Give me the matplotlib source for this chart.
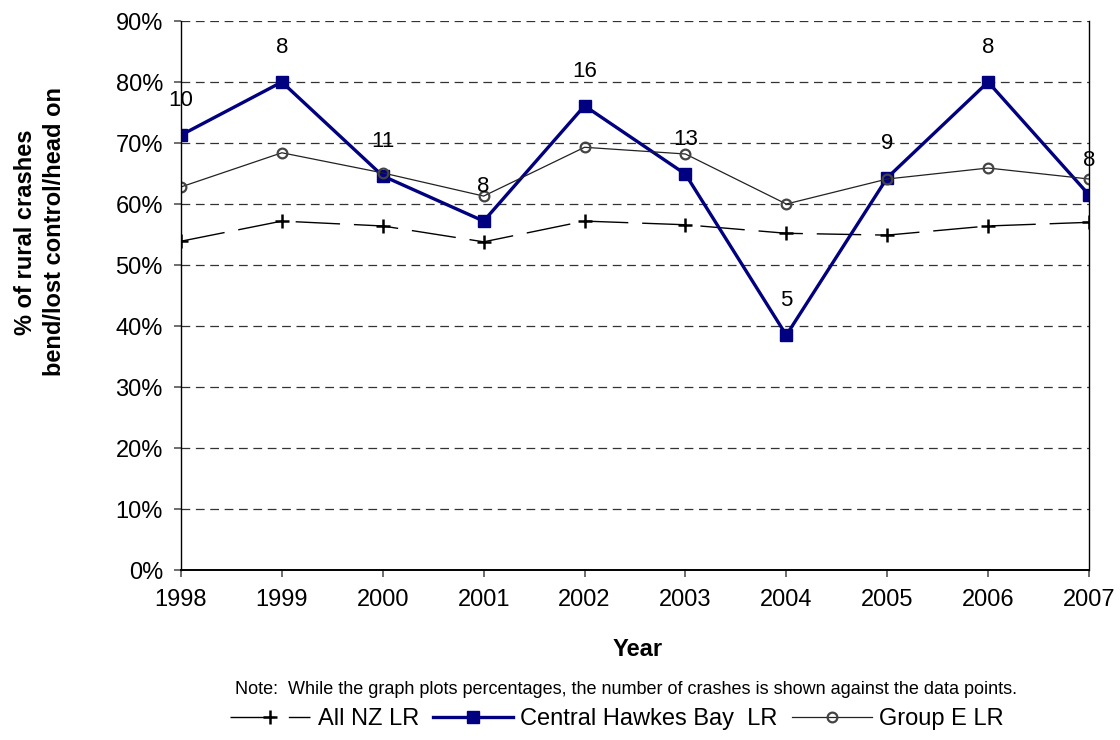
import matplotlib

matplotlib.use("Agg")
import matplotlib.pyplot as plt
from matplotlib.ticker import PercentFormatter

plt.rcParams["font.family"] = ["Liberation Sans", "DejaVu Sans"]

years = [1998, 1999, 2000, 2001, 2002, 2003, 2004, 2005, 2006, 2007]
all_nz = [53.9, 57.2, 56.4, 53.8, 57.2, 56.6, 55.2, 54.9, 56.4, 57.0]
central_hb = [71.3, 80.0, 64.6, 57.2, 76.1, 64.9, 38.5, 64.3, 80.0, 61.5]
group_e = [62.8, 68.4, 65.1, 61.3, 69.3, 68.2, 60.0, 64.1, 65.9, 64.1]
crash_counts = [10, 8, 11, 8, 16, 13, 5, 9, 8, 8]

fig = plt.figure(figsize=(11.2, 7.4), dpi=100)
ax = fig.add_axes([0.1616, 0.2297, 0.8107, 0.7419])

ax.plot(years, all_nz, color="black", lw=1, dashes=(32, 10),
        marker="+", ms=10, mew=1.8, label="All NZ LR")
ax.plot(years, central_hb, color="#000080", lw=2.4,
        marker="s", ms=9, label="Central Hawkes Bay  LR")
ax.plot(years, group_e, color="#222222", lw=0.9,
        marker="o", ms=7, mfc="none", mec="#444444", mew=1.6, label="Group E LR")

# crash counts shown above the Central Hawkes Bay points
for x, y, n in zip(years, central_hb, crash_counts):
    ax.annotate(str(n), (x, y), xytext=(0, 25), textcoords="offset points",
                ha="center", va="center", fontsize=16)

ax.set_xlim(1998, 2007)
ax.set_ylim(0, 90)
ax.set_xticks(years)
ax.set_yticks(range(0, 91, 10))
ax.yaxis.set_major_formatter(PercentFormatter(decimals=0))
ax.tick_params(labelsize=17, direction="out", length=5, width=1.2, color="#555555")
ax.tick_params(axis="x", pad=9)
ax.tick_params(axis="y", pad=8)
ax.grid(axis="y", color="#333333", linestyle=(0, (7, 4.5)), lw=0.9)
ax.set_axisbelow(True)
ax.spines["top"].set_visible(False)
ax.spines["left"].set_linewidth(1)
ax.spines["right"].set_linewidth(1)
ax.spines["bottom"].set_linewidth(1.4)

fig.text(40 / 1120, 1 - 232 / 740, "% of rural crashes\nbend/lost control/head on",
         rotation=90, ha="center", va="center", fontsize=17, fontweight="bold",
         linespacing=1.3)
fig.text(638 / 1120, 1 - 650 / 740, "Year", ha="center", va="center",
         fontsize=17, fontweight="bold")
fig.text(626 / 1120, 1 - 690 / 740,
         "Note:  While the graph plots percentages, the number of crashes is shown against the data points.",
         ha="center", va="center", fontsize=13)

fig.legend(loc="center", bbox_to_anchor=(617 / 1120, 1 - 719 / 740), ncol=3, frameon=False,
           fontsize=17, handlelength=3.4, columnspacing=0.6, handletextpad=0.3)

fig.savefig("out.png", dpi=100)
